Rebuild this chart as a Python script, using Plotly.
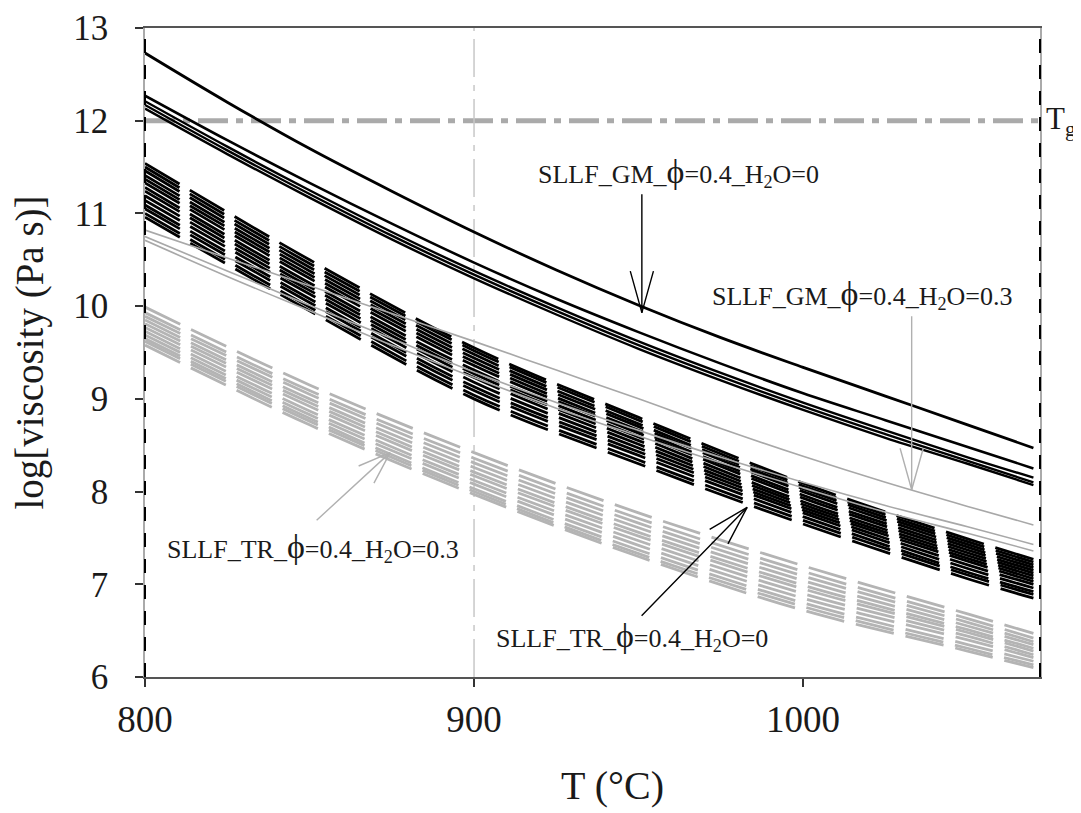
import plotly.graph_objects as go

# ---------------- data ----------------
T_FINE = [800, 825, 850, 875, 900, 925, 950, 975, 1000, 1025, 1050, 1070]
T_COARSE = [800, 850, 900, 950, 1000, 1050, 1070]

# SLLF_GM  phi=0.4  H2O=0  (black solid)
GM0_1 = [12.73, 12.20, 11.70, 11.24, 10.80, 10.39, 10.01, 9.66, 9.34, 9.03, 8.72, 8.47]
GM0_2 = [12.27, 11.79, 11.33, 10.89, 10.47, 10.08, 9.72, 9.38, 9.06, 8.77, 8.48, 8.25]
GM0_3 = [12.21, 11.72, 11.25, 10.80, 10.38, 9.99, 9.62, 9.28, 8.96, 8.66, 8.37, 8.15]
GM0_4 = [12.17, 11.68, 11.21, 10.76, 10.34, 9.95, 9.58, 9.24, 8.92, 8.62, 8.33, 8.10]
GM0_5 = [12.13, 11.64, 11.17, 10.72, 10.30, 9.91, 9.54, 9.20, 8.88, 8.58, 8.30, 8.07]

# SLLF_GM  phi=0.4  H2O=0.3  (grey solid)
GM3_1 = [10.82, 10.52, 10.22, 9.92, 9.62, 9.31, 9.00, 8.68, 8.38, 8.10, 7.84, 7.64]
GM3_2 = [10.75, 10.38, 10.01, 9.65, 9.29, 8.96, 8.66, 8.37, 8.10, 7.85, 7.62, 7.43]
GM3_3 = [10.71, 10.32, 9.95, 9.58, 9.23, 8.90, 8.60, 8.31, 8.04, 7.78, 7.55, 7.36]

# SLLF_TR  phi=0.4  H2O=0  (black dashed band)
TR0_LINES = [
    [11.54, 10.50, 9.55, 8.80, 8.09, 7.49, 7.27],
    [11.50, 10.46, 9.52, 8.77, 8.06, 7.46, 7.24],
    [11.46, 10.42, 9.48, 8.73, 8.03, 7.43, 7.21],
    [11.41, 10.38, 9.44, 8.70, 8.00, 7.40, 7.18],
    [11.37, 10.34, 9.40, 8.66, 7.96, 7.37, 7.15],
    [11.33, 10.30, 9.36, 8.63, 7.93, 7.34, 7.12],
    [11.28, 10.25, 9.31, 8.59, 7.89, 7.31, 7.09],
    [11.24, 10.21, 9.27, 8.55, 7.86, 7.28, 7.06],
    [11.19, 10.17, 9.23, 8.51, 7.83, 7.25, 7.03],
    [11.14, 10.13, 9.18, 8.47, 7.80, 7.21, 7.00],
    [11.09, 10.08, 9.13, 8.43, 7.77, 7.17, 6.96],
    [11.05, 10.04, 9.09, 8.39, 7.73, 7.13, 6.92],
    [11.00, 9.99, 9.04, 8.34, 7.69, 7.10, 6.89],
    [10.96, 9.95, 9.00, 8.30, 7.65, 7.06, 6.85],
]

# SLLF_TR  phi=0.4  H2O=0.3  (grey dashed band)
TR3_LINES = [
    [9.99, 9.15, 8.42, 7.77, 7.20, 6.68, 6.47],
    [9.93, 9.09, 8.36, 7.71, 7.14, 6.63, 6.42],
    [9.89, 9.05, 8.31, 7.66, 7.09, 6.59, 6.38],
    [9.85, 9.00, 8.26, 7.61, 7.04, 6.55, 6.35],
    [9.81, 8.96, 8.21, 7.56, 6.99, 6.51, 6.31],
    [9.77, 8.92, 8.17, 7.52, 6.95, 6.48, 6.28],
    [9.73, 8.87, 8.12, 7.47, 6.90, 6.44, 6.24],
    [9.69, 8.83, 8.08, 7.42, 6.85, 6.40, 6.21],
    [9.65, 8.79, 8.03, 7.37, 6.80, 6.35, 6.17],
    [9.62, 8.76, 8.00, 7.33, 6.76, 6.31, 6.13],
    [9.58, 8.72, 7.97, 7.30, 6.72, 6.28, 6.10],
]

TG_VALUE = 12          # glass transition line
REF_T = 900            # vertical reference line
X_RANGE = [800, 1072]
Y_RANGE = [6, 13]
X_TICKS = [800, 900, 1000]
Y_TICKS = [6, 7, 8, 9, 10, 11, 12, 13]
X_TITLE = "T (°C)"
Y_TITLE = "log[viscosity (Pa s)]"

PHI = '<span style="font-size:34px">ϕ</span>'
# annotation anchors (data coords) and labels
LBL_GM0 = ("SLLF_GM_" + PHI + "=0.4_H<sub>2</sub>O=0", 962, 11.44)
LBL_GM3 = ("SLLF_GM_" + PHI + "=0.4_H<sub>2</sub>O=0.3", 1018, 10.13)
LBL_TR3 = ("SLLF_TR_" + PHI + "=0.4_H<sub>2</sub>O=0.3", 851, 7.40)
LBL_TR0 = ("SLLF_TR_" + PHI + "=0.4_H<sub>2</sub>O=0", 948, 6.44)
# arrow tips (data) with shaft and barb offsets (px)
ARR_GM0 = (951, 9.93, (0, -120), [(-12, -43), (12, -43)], "#000000")
ARR_GM3 = (1033, 8.02, (0, -175), [(-12, -43), (12, -43)], "#b0b0b0")
ARR_TR3 = (874.5, 8.42, (-75, 69), [(-33, 14), (-17, 32)], "#b0b0b0")
ARR_TR0 = (983, 7.83, (-107, 110), [(-39, 23), (-20, 38)], "#000000")

# ---------------- figure ----------------
fig = go.Figure()
SERIF = "Liberation Serif, Times New Roman, serif"

for vals in TR3_LINES:
    fig.add_trace(go.Scatter(x=T_COARSE, y=vals, mode="lines",
                             line=dict(color="#b4b4b4", width=2.8, dash="39px,12px",
                                       shape="spline", smoothing=1.0),
                             hoverinfo="skip", showlegend=False))
for vals in TR0_LINES:
    fig.add_trace(go.Scatter(x=T_COARSE, y=vals, mode="lines",
                             line=dict(color="#000000", width=2.8, dash="40px,12px",
                                       shape="spline", smoothing=1.0),
                             hoverinfo="skip", showlegend=False))
for vals in (GM3_1, GM3_2, GM3_3):
    fig.add_trace(go.Scatter(x=T_FINE, y=vals, mode="lines",
                             line=dict(color="#a8a8a8", width=1.6, shape="spline"),
                             hoverinfo="skip", showlegend=False))
for vals, w in ((GM0_1, 2.8), (GM0_2, 2.6), (GM0_3, 2.4), (GM0_4, 2.4), (GM0_5, 2.4)):
    fig.add_trace(go.Scatter(x=T_FINE, y=vals, mode="lines",
                             line=dict(color="#000000", width=w, shape="spline"),
                             hoverinfo="skip", showlegend=False))

# Tg line and vertical reference line
fig.add_shape(type="line", xref="paper", x0=0, x1=1, yref="y", y0=TG_VALUE, y1=TG_VALUE,
              line=dict(color="#aaaaaa", width=5, dash="30px,8px,7px,8px"), layer="below")
fig.add_shape(type="line", xref="x", x0=REF_T, x1=REF_T, yref="paper", y0=0, y1=1,
              line=dict(color="#c8c8c8", width=1.5, dash="38px,8px,6px,8px"), layer="below")
# dashed black overlay on left/right frame
for xp in (0, 1):
    fig.add_shape(type="line", xref="paper", x0=xp, x1=xp, yref="paper", y0=0, y1=1,
                  line=dict(color="#000000", width=2, dash="14px,12px"))

annots = []
for txt, x, y in (LBL_GM0, LBL_GM3, LBL_TR3, LBL_TR0):
    annots.append(dict(x=x, y=y, xref="x", yref="y", text=txt, showarrow=False,
                       font=dict(family=SERIF, size=26, color="#1a1a1a"),
                       xanchor="center", yanchor="middle"))
for x, y, shaft, barbs, col in (ARR_GM0, ARR_GM3, ARR_TR3, ARR_TR0):
    for ax, ay in [shaft] + barbs:
        annots.append(dict(x=x, y=y, xref="x", yref="y", text="", showarrow=True,
                           ax=ax, ay=ay, arrowhead=0, arrowwidth=1.4, arrowcolor=col,
                           standoff=0, startstandoff=0))
annots.append(dict(x=1.005, y=TG_VALUE, xref="paper", yref="y",
                   text="T<sub>g</sub>", showarrow=False, xanchor="left", yanchor="middle",
                   font=dict(family=SERIF, size=31, color="#1a1a1a")))
# x-axis title (placed slightly right of centre, as in the reference)
annots.append(dict(x=0.522, y=0, xref="paper", yref="paper", yshift=-108,
                   text=X_TITLE, showarrow=False, xanchor="center", yanchor="middle",
                   font=dict(family=SERIF, size=40, color="#1a1a1a")))

# page body has an 8px margin -> figure is 8px smaller and margins compensate
fig.update_layout(
    width=1073, height=805,
    margin=dict(l=137, r=41, t=20, b=136, autoexpand=False),
    paper_bgcolor="white", plot_bgcolor="white",
    annotations=annots,
    font=dict(family=SERIF, color="#1a1a1a"),
)
fig.update_xaxes(range=X_RANGE, tickvals=X_TICKS, ticks="outside", ticklen=8, tickwidth=1.5,
                 tickcolor="#333", showgrid=False, zeroline=False,
                 showline=True, linecolor="#555555", linewidth=2, mirror=True,
                 ticklabelstandoff=1,
                 tickfont=dict(family=SERIF, size=37, color="#1a1a1a"))
fig.update_yaxes(range=Y_RANGE, tickvals=Y_TICKS, ticks="outside", ticklen=8, tickwidth=1.5,
                 tickcolor="#333", showgrid=False, zeroline=False,
                 showline=True, linecolor="#aaaaaa", linewidth=1.5, mirror=True,
                 ticklabelstandoff=20,
                 tickfont=dict(family=SERIF, size=35, color="#1a1a1a"),
                 title=dict(text=Y_TITLE,
                            font=dict(family=SERIF, size=39, color="#1a1a1a"), standoff=22))

fig.write_html("out.html")
